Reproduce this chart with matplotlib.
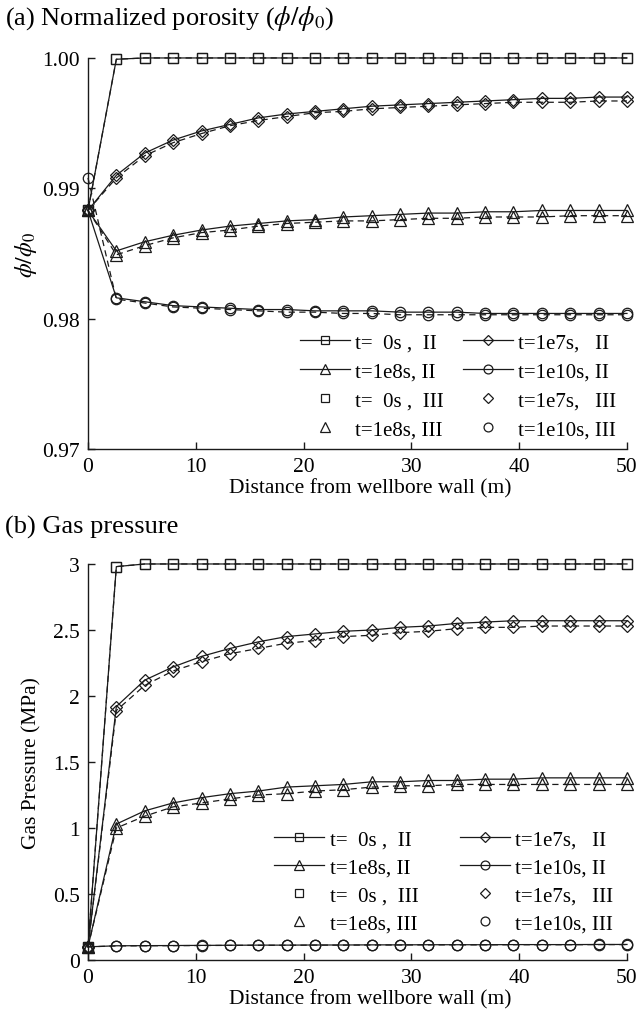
import matplotlib
matplotlib.use('Agg')
import matplotlib.pyplot as plt
from matplotlib.lines import Line2D
from matplotlib.ticker import FormatStrFormatter

plt.rcParams['font.family'] = ['Liberation Serif', 'DejaVu Serif']
plt.rcParams['mathtext.fontset'] = 'stix'

# distance from wellbore wall (m), 20 nodes
x = [0.0, 2.63, 5.26, 7.89, 10.53, 13.16, 15.79, 18.42, 21.05, 23.68,
     26.32, 28.95, 31.58, 34.21, 36.84, 39.47, 42.11, 44.74, 47.37, 50.0]

# (a) normalized porosity, model II (solid) and III (dashed)
por_0s_II = [0.9883, 0.9999, 1.0, 1.0, 1.0, 1.0, 1.0, 1.0, 1.0, 1.0,
             1.0, 1.0, 1.0, 1.0, 1.0, 1.0, 1.0, 1.0, 1.0, 1.0]
por_1e7_II = [0.9883, 0.9910, 0.9927, 0.9937, 0.9944, 0.9949, 0.9954, 0.9957, 0.9959, 0.9961,
              0.9963, 0.9964, 0.9965, 0.9966, 0.9967, 0.9968, 0.9969, 0.9969, 0.9970, 0.9970]
por_1e8_II = [0.9883, 0.9852, 0.9859, 0.9864, 0.9868, 0.9871, 0.9873, 0.9875, 0.9876, 0.9878,
              0.9879, 0.9880, 0.9881, 0.9881, 0.9882, 0.9882, 0.9883, 0.9883, 0.9883, 0.9883]
por_1e10_II = [0.9883, 0.9816, 0.9813, 0.9810, 0.9809, 0.9808, 0.9807, 0.9807, 0.9806, 0.9806,
               0.9806, 0.9805, 0.9805, 0.9805, 0.9804, 0.9804, 0.9804, 0.9804, 0.9804, 0.9804]
por_0s_III = [0.9883, 0.9999, 1.0, 1.0, 1.0, 1.0, 1.0, 1.0, 1.0, 1.0,
              1.0, 1.0, 1.0, 1.0, 1.0, 1.0, 1.0, 1.0, 1.0, 1.0]
por_1e7_III = [0.9883, 0.9908, 0.9925, 0.9935, 0.9942, 0.9948, 0.9952, 0.9955, 0.9958, 0.9959,
               0.9961, 0.9962, 0.9963, 0.9964, 0.9965, 0.9966, 0.9966, 0.9966, 0.9967, 0.9967]
por_1e8_III = [0.9883, 0.9849, 0.9856, 0.9862, 0.9866, 0.9868, 0.9871, 0.9873, 0.9874, 0.9875,
               0.9875, 0.9876, 0.9877, 0.9877, 0.9878, 0.9878, 0.9878, 0.9879, 0.9879, 0.9879]
por_1e10_III = [0.9908, 0.9815, 0.9812, 0.9809, 0.9808, 0.9807, 0.9806, 0.9805, 0.9805, 0.9804,
                0.9804, 0.9803, 0.9803, 0.9803, 0.9803, 0.9803, 0.9803, 0.9803, 0.9803, 0.9803]

# (b) gas pressure (MPa)
p_0s_II = [0.1, 2.98, 3.0, 3.0, 3.0, 3.0, 3.0, 3.0, 3.0, 3.0,
           3.0, 3.0, 3.0, 3.0, 3.0, 3.0, 3.0, 3.0, 3.0, 3.0]
p_1e7_II = [0.1, 1.92, 2.12, 2.22, 2.30, 2.36, 2.41, 2.45, 2.47, 2.49,
            2.50, 2.52, 2.53, 2.55, 2.56, 2.57, 2.57, 2.57, 2.57, 2.57]
p_1e8_II = [0.1, 1.03, 1.13, 1.19, 1.23, 1.26, 1.28, 1.31, 1.32, 1.33,
            1.35, 1.35, 1.36, 1.36, 1.37, 1.37, 1.38, 1.38, 1.38, 1.38]
p_1e10_II = [0.1, 0.108, 0.109, 0.110, 0.111, 0.112, 0.113, 0.113, 0.114, 0.114,
             0.115, 0.115, 0.116, 0.116, 0.116, 0.117, 0.117, 0.117, 0.118, 0.118]
p_0s_III = [0.1, 2.98, 3.0, 3.0, 3.0, 3.0, 3.0, 3.0, 3.0, 3.0,
            3.0, 3.0, 3.0, 3.0, 3.0, 3.0, 3.0, 3.0, 3.0, 3.0]
p_1e7_III = [0.1, 1.89, 2.08, 2.19, 2.26, 2.32, 2.36, 2.40, 2.42, 2.45,
             2.46, 2.48, 2.49, 2.51, 2.52, 2.52, 2.53, 2.53, 2.53, 2.53]
p_1e8_III = [0.1, 1.00, 1.09, 1.16, 1.19, 1.22, 1.25, 1.26, 1.28, 1.29,
             1.31, 1.32, 1.32, 1.33, 1.33, 1.33, 1.33, 1.33, 1.33, 1.33]
p_1e10_III = [0.1, 0.107, 0.108, 0.109, 0.110, 0.111, 0.112, 0.112, 0.113, 0.113,
              0.114, 0.114, 0.115, 0.115, 0.115, 0.116, 0.116, 0.116, 0.117, 0.117]

labels_II = ['t=  0s ,  II', 't=1e7s,   II', 't=1e8s, II', 't=1e10s, II']
labels_III = ['t=  0s ,  III', 't=1e7s,   III', 't=1e8s, III', 't=1e10s, III']
markers = ['s', 'D', '^', 'o']
msizes = [7.5, 6.5, 8.5, 7.5]
col = '#1a1a1a'


def draw_panel(ax, series_II, series_III):
    h2, h3 = [], []
    for i in range(4):
        ax.plot(x, series_II[i], color=col, lw=0.9, marker=markers[i], ms=msizes[i],
                mfc='none', mec=col, mew=0.9, clip_on=False, zorder=3)
        ax.plot(x, series_III[i], color=col, lw=0.9, ls=(0, (5, 3.5)), marker=markers[i],
                ms=msizes[i], mfc='none', mec=col, mew=0.9, clip_on=False, zorder=3)
        h2.append(Line2D([], [], color=col, lw=0.9, marker=markers[i], ms=msizes[i] * 0.85,
                         mfc='none', mec=col, mew=0.9))
        h3.append(Line2D([], [], ls='none', marker=markers[i], ms=msizes[i] * 0.85,
                         mfc='none', mec=col, mew=0.9))
    # ncol=2 fills column by column
    handles = [h2[0], h2[2], h3[0], h3[2], h2[1], h2[3], h3[1], h3[3]]
    labs = [labels_II[0], labels_II[2], labels_III[0], labels_III[2],
            labels_II[1], labels_II[3], labels_III[1], labels_III[3]]
    for s in ['top', 'right']:
        ax.spines[s].set_visible(False)
    for s in ['left', 'bottom']:
        ax.spines[s].set_linewidth(1.0)
        ax.spines[s].set_color(col)
    ax.tick_params(direction='in', length=5, width=1.0, labelsize=15.5, color=col, pad=6)
    ax.set_xlim(0, 50)
    ax.set_xticks([0, 10, 20, 30, 40, 50])
    ax.set_xlabel('Distance from wellbore wall (m)', fontsize=15.5, labelpad=1)
    ax.xaxis.label.set_x(0.523)
    return handles, labs


fig = plt.figure(figsize=(6.39, 10.2), dpi=100)
ax1 = fig.add_axes([0.1377, 0.5588, 0.8435, 0.3834])
ax2 = fig.add_axes([0.1377, 0.0578, 0.8435, 0.3883])

h, l = draw_panel(ax1, [por_0s_II, por_1e7_II, por_1e8_II, por_1e10_II],
                  [por_0s_III, por_1e7_III, por_1e8_III, por_1e10_III])
ax1.set_ylim(0.97, 1.0)
ax1.set_yticks([0.97, 0.98, 0.99, 1.00])
ax1.yaxis.set_major_formatter(FormatStrFormatter('%.2f'))
ax1.set_ylabel(r'$\phi/\phi_0$', fontsize=17, labelpad=2)
ax1.legend(h, l, ncol=2, loc='lower right', bbox_to_anchor=(0.995, 0.004), frameon=False,
           fontsize=15, handlelength=2.4, handletextpad=0.25, columnspacing=0.9,
           labelspacing=0.45, borderaxespad=0)

h, l = draw_panel(ax2, [p_0s_II, p_1e7_II, p_1e8_II, p_1e10_II],
                  [p_0s_III, p_1e7_III, p_1e8_III, p_1e10_III])
ax2.set_ylim(0, 3)
ax2.set_yticks([0, 0.5, 1, 1.5, 2, 2.5, 3])
ax2.yaxis.set_major_formatter(FormatStrFormatter('%g'))
ax2.set_ylabel('Gas Pressure (MPa)', fontsize=15.5, labelpad=8)
ax2.legend(h, l, ncol=2, loc='lower right', bbox_to_anchor=(0.99, 0.047), frameon=False,
           fontsize=15, handlelength=2.4, handletextpad=0.25, columnspacing=2.0,
           labelspacing=0.4, borderaxespad=0)

fig.text(0.008, 0.982, r'(a) Normalized porosity ($\phi/\phi_0$)', fontsize=19, va='center')
fig.text(0.008, 0.483, '(b) Gas pressure', fontsize=19, va='center')

fig.savefig('out.png', dpi=100)
